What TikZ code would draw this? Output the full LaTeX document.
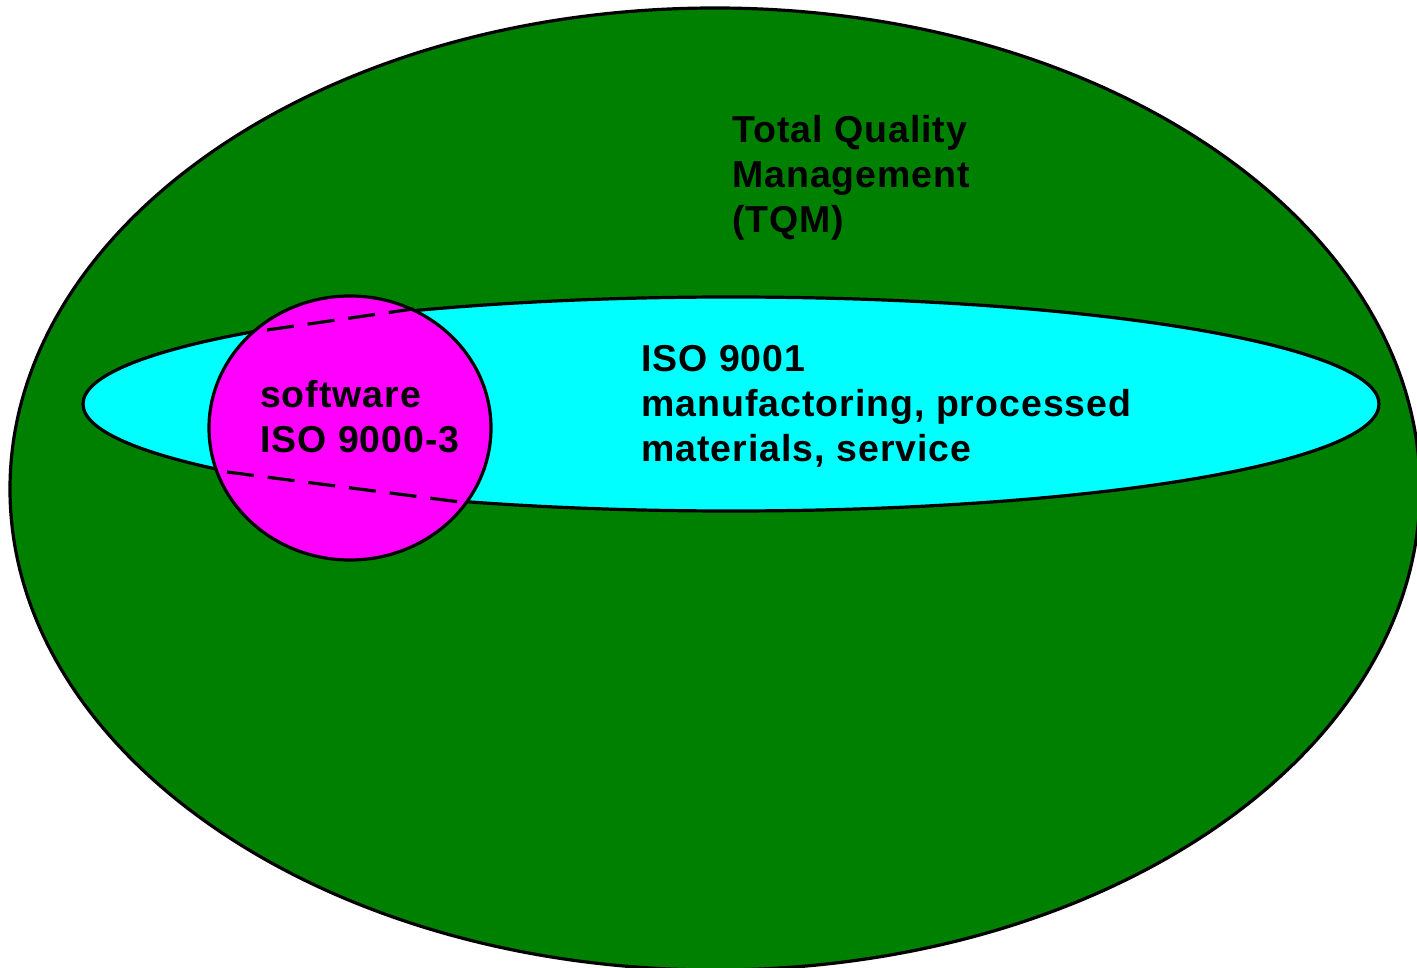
\documentclass[tikz,border=0pt]{standalone}
\usepackage{fontspec}
\setmainfont{Liberation Sans}[LetterSpace=2.6]
\begin{document}
\begin{tikzpicture}[x=1pt,y=-1pt,
  shapeline/.style={draw=black,line width=3.2pt},
  lbl/.style={anchor=base west,inner sep=0pt,font=\fontsize{37.5}{45}\selectfont\bfseries},
  dashline/.style={draw=black,line width=3.2pt,dash pattern=on 27pt off 14pt}]
\useasboundingbox (0,0) rectangle (1417,968);
\fill[white] (0,0) rectangle (1417,968);
\draw[shapeline,fill={rgb,255:red,0;green,128;blue,0}] (715,489) ellipse [x radius=705,y radius=481];
\draw[shapeline,fill={rgb,255:red,0;green,255;blue,255}] (731,404) ellipse [x radius=648,y radius=107];
\draw[shapeline,fill={rgb,255:red,255;green,0;blue,255}] (350,428) ellipse [x radius=141,y radius=132];
\coordinate (d1a) at (267,330);
\coordinate (d1b) at (413,309);
\coordinate (d2a) at (227,472);
\coordinate (d2b) at (460,502);
\draw[dashline] (d1a) -- (d1b);
\draw[dashline] (d2a) -- (d2b);
\node[lbl] (t1) at (732,143) {Total Quality};
\node[lbl] (t2) at (732,188) {Management};
\node[lbl] (t3) at (732,233) {(TQM)};
\node[lbl] (i1) at (641,371) {ISO 9001};
\node[lbl] (i2) at (641,416) {manufactoring, processed};
\node[lbl] (i3) at (641,461) {materials, service};
\node[lbl] (s1) at (260,407) {software};
\node[lbl] (s2) at (260,452) {ISO 9000-3};
\end{tikzpicture}
\end{document}
